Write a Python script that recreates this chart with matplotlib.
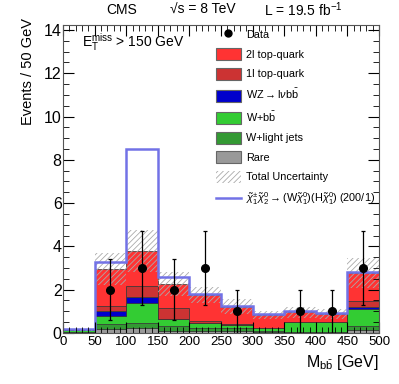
import numpy as np
import matplotlib
matplotlib.use('Agg')
from matplotlib import pyplot as plt
from matplotlib.patches import Patch
from matplotlib.lines import Line2D

# Data
edges = np.arange(0, 550, 50)
rare   = [0.02, 0.17, 0.22, 0.10, 0.10, 0.08, 0.06, 0.03, 0.03, 0.14]
wlight = [0.02, 0.25, 0.26, 0.22, 0.14, 0.14, 0.04, 0.02, 0.02, 0.18]
wbb    = [0.08, 0.38, 0.89, 0.33, 0.24, 0.13, 0.12, 0.47, 0.47, 0.79]
wz     = [0.01, 0.22, 0.28, 0.00, 0.00, 0.00, 0.00, 0.00, 0.00, 0.11]
top1l  = [0.00, 0.23, 0.52, 0.49, 0.07, 0.05, 0.03, 0.00, 0.00, 0.26]
top2l  = [0.01, 1.69, 1.62, 1.12, 1.21, 0.82, 0.58, 0.44, 0.36, 1.28]
signal = [0.03, 0.34, 4.73, 0.34, 0.04, 0.04, 0.05, 0.06, 0.06, 0.04]
unc    = [0.03, 0.74, 0.97, 0.57, 0.38, 0.34, 0.20, 0.26, 0.23, 0.69]
data   = [0, 2, 3, 2, 3, 1, 0, 1, 1, 3]

labels = ['Rare', 'W+light jets', r'W+b$\bar{\mathrm{b}}$',
          r'WZ$\rightarrow$l$\nu$b$\bar{\mathrm{b}}$', '1l top-quark', '2l top-quark']
colors = ['#999999', '#339933', '#33cc33', '#0000cc', '#cc3333', '#ff3333']
comps = [rare, wlight, wbb, wz, top1l, top2l]

plt.rcParams['font.family'] = ['Liberation Sans', 'DejaVu Sans']
plt.rcParams['mathtext.fontset'] = 'custom'
plt.rcParams['mathtext.rm'] = 'Liberation Sans'
plt.rcParams['mathtext.it'] = 'Liberation Sans:italic'
plt.rcParams['hatch.linewidth'] = 0.6

fig = plt.figure(figsize=(3.99, 3.84), dpi=100)
ax = fig.add_axes([0.158, 0.133, 0.792, 0.802])

# Stack
bottom = np.zeros(10)
for vals, c in zip(comps, colors):
    top = bottom + np.array(vals)
    ax.stairs(top, edges, baseline=bottom, fill=True, facecolor=c,
              edgecolor='#333333', linewidth=0.5)
    bottom = top
total = bottom

# Total uncertainty
ax.stairs(total + np.array(unc), edges, baseline=total - np.array(unc), fill=True,
          facecolor='none', edgecolor='#aaaaaa', hatch='//////', linewidth=0)

# Signal stacked on background
ax.stairs(total + np.array(signal), edges, baseline=None, color='#7272e6', linewidth=1.8)

# Data
centers = 0.5 * (edges[:-1] + edges[1:])
d = np.array(data, dtype=float)
m = d > 0
ax.errorbar(centers[m], d[m], yerr=np.sqrt(d[m]), fmt='o', color='k', ms=5.5,
            elinewidth=0.9, capsize=1.5, capthick=0.9)

# Axes
ax.set_xlim(0, 500)
ax.set_ylim(0, 14.23)
ax.set_xticks(np.arange(0, 550, 50))
ax.set_xticks(np.arange(0, 510, 10), minor=True)
ax.set_yticks(np.arange(0, 16, 2))
ax.set_yticks(np.arange(0, 14.5, 0.5), minor=True)
ax.tick_params(which='both', direction='in', top=True, right=True)
ax.tick_params(which='major', length=8, width=0.8)
ax.tick_params(which='minor', length=4, width=0.6)
ax.tick_params(axis='x', labelsize=9.5, pad=2)
ax.tick_params(axis='y', labelsize=11.5, pad=1)
for s in ax.spines.values():
    s.set_color('#555555')

ax.set_ylabel('Events / 50 GeV', fontsize=10.5, labelpad=1)
ax.yaxis.set_label_coords(-0.088, 1.023)
ax.yaxis.label.set_ha('right')
ax.set_xlabel(r'M$_{\mathrm{b\bar{b}}}$ [GeV]', fontsize=11.5, loc='right')

# Texts
fig.text(0.306, 0.974, 'CMS', ha='center', va='center', fontsize=10)
fig.text(0.509, 0.974, '\u221as = 8 TeV', ha='center', va='center', fontsize=10)
fig.text(0.759, 0.974, r'L = 19.5 fb$^{-1}$', ha='center', va='center', fontsize=10)
ax.text(0.06, 0.945, r'E$_{\mathrm{T}}^{\mathrm{miss}}$ > 150 GeV', transform=ax.transAxes,
        ha='left', va='center', fontsize=10)

# Legend
handles = [Line2D([], [], marker='o', color='k', ls='none', ms=5)]
names = ['Data']
for lab, c in reversed(list(zip(labels, colors))):
    handles.append(Patch(facecolor=c, edgecolor='#666666', linewidth=0.8))
    names.append(lab)
handles.append(Patch(facecolor='white', edgecolor='#aaaaaa', hatch='//////', linewidth=0))
names.append('Total Uncertainty')
handles.append(Line2D([], [], color='#7272e6', lw=1.8))
names.append(r'$\tilde{\chi}^{\pm}_{1}\tilde{\chi}^{0}_{2}\rightarrow$(W$\tilde{\chi}^{0}_{1}$)(H$\tilde{\chi}^{0}_{1}$) (200/1)')
ax.legend(handles, names, loc='upper left', bbox_to_anchor=(0.46, 1.013), frameon=False,
          fontsize=7.8, handlelength=2.3, handleheight=1.3, labelspacing=0.72,
          borderpad=0.2, handletextpad=0.5)

fig.savefig('out.png', dpi=100)
